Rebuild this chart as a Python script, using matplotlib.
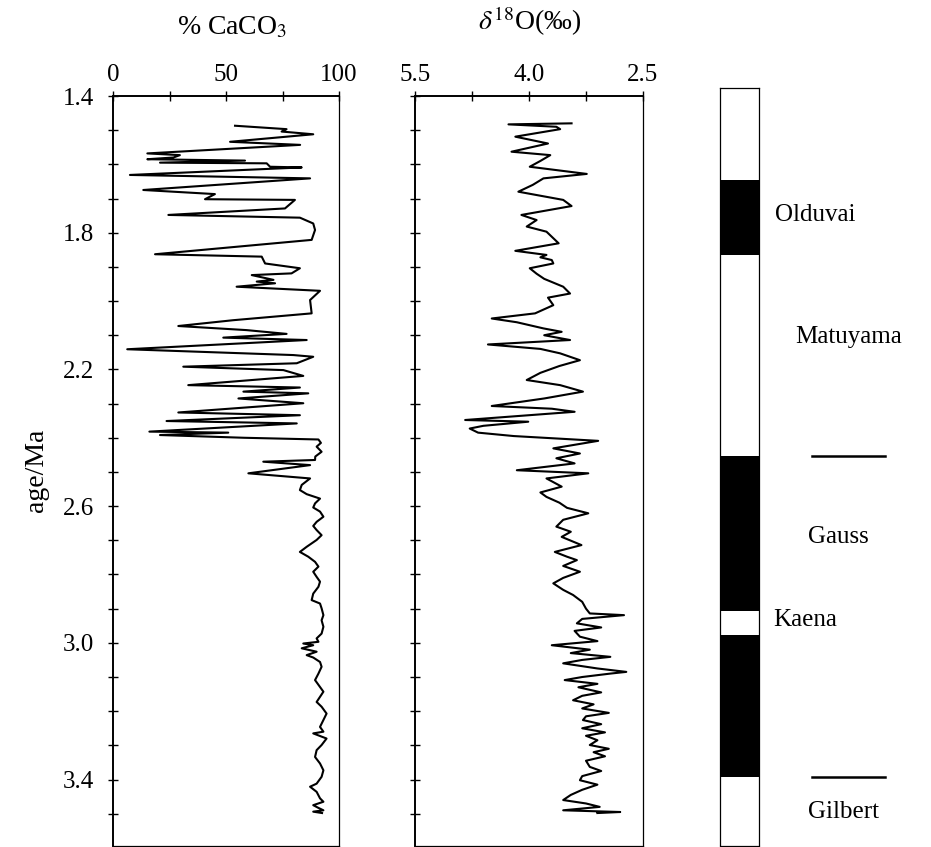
import numpy as np
import matplotlib
matplotlib.use("Agg")
import matplotlib.pyplot as plt
from matplotlib.ticker import MultipleLocator, FixedLocator

plt.rcParams['font.family'] = ['Liberation Serif', 'DejaVu Serif']
plt.rcParams['mathtext.fontset'] = 'stix'

# %CaCO3 record (age in Ma, percent)
caco3_age = [1.487, 1.497, 1.504, 1.512, 1.534, 1.543, 1.568, 1.573, 1.580, 1.585,
             1.589, 1.595, 1.597, 1.607, 1.609, 1.631, 1.641, 1.675, 1.687, 1.702,
             1.704, 1.729, 1.748, 1.756, 1.773, 1.792, 1.821, 1.863, 1.870, 1.890,
             1.904, 1.919, 1.924, 1.938, 1.943, 1.948, 1.958, 1.970, 1.997, 2.036,
             2.056, 2.073, 2.085, 2.096, 2.107, 2.114, 2.141, 2.158, 2.163, 2.182,
             2.192, 2.202, 2.219, 2.246, 2.253, 2.265, 2.270, 2.285, 2.299, 2.326,
             2.334, 2.351, 2.358, 2.382, 2.385, 2.392, 2.400, 2.405, 2.415, 2.426,
             2.441, 2.455, 2.465, 2.470, 2.480, 2.504, 2.519, 2.538, 2.553, 2.565,
             2.578, 2.592, 2.604, 2.616, 2.631, 2.646, 2.658, 2.670, 2.685, 2.699,
             2.719, 2.734, 2.748, 2.763, 2.777, 2.792, 2.807, 2.821, 2.836, 2.856,
             2.875, 2.885, 2.899, 2.919, 2.934, 2.953, 2.973, 2.987, 2.997, 3.002,
             3.007, 3.016, 3.026, 3.036, 3.043, 3.056, 3.070, 3.090, 3.109, 3.129,
             3.143, 3.158, 3.173, 3.187, 3.207, 3.226, 3.246, 3.260, 3.265, 3.280,
             3.299, 3.314, 3.334, 3.353, 3.373, 3.392, 3.412, 3.421, 3.436, 3.455,
             3.465, 3.475, 3.483, 3.490, 3.494, 3.498]
caco3_val = [54.0, 76.8, 74.6, 88.6, 51.8, 82.8, 15.2, 29.6, 26.7, 15.2,
             58.4, 20.8, 68.0, 69.5, 83.5, 7.5, 87.2, 13.4, 45.1, 40.7,
             80.5, 76.1, 24.5, 82.7, 88.6, 89.4, 87.9, 18.6, 65.8, 67.3,
             82.7, 79.0, 61.4, 71.0, 63.6, 71.7, 54.7, 91.6, 87.2, 87.9,
             53.2, 28.9, 59.1, 76.8, 48.8, 85.7, 6.3, 79.8, 88.6, 81.3,
             31.1, 75.4, 84.2, 33.3, 82.7, 57.7, 86.4, 55.5, 84.2, 28.9,
             82.7, 23.7, 81.3, 16.1, 51.0, 20.8, 58.0, 90.9, 92.0, 90.1,
             92.3, 89.5, 89.4, 66.5, 87.2, 59.9, 87.2, 83.5, 82.7, 85.7,
             91.6, 89.4, 88.6, 91.6, 93.1, 90.1, 88.6, 90.1, 92.3, 90.1,
             85.7, 82.7, 86.4, 89.4, 90.9, 88.6, 90.1, 91.6, 90.9, 88.6,
             87.9, 91.6, 92.3, 93.1, 92.3, 93.1, 92.3, 90.1, 90.9, 84.2,
             88.6, 83.5, 90.1, 85.7, 88.6, 91.6, 92.3, 90.9, 89.4, 91.6,
             93.1, 91.6, 90.1, 92.3, 94.5, 93.1, 91.6, 93.1, 88.6, 94.5,
             92.3, 90.1, 89.4, 91.6, 93.1, 92.3, 90.1, 87.2, 90.1, 91.6,
             93.1, 88.6, 90.9, 93.1, 88.6, 92.5]

# delta 18O record (age in Ma, per mil)
d18o_age = [1.480, 1.483, 1.490, 1.497, 1.519, 1.539, 1.563, 1.573, 1.590, 1.607,
            1.628, 1.641, 1.660, 1.680, 1.704, 1.722, 1.748, 1.763, 1.782, 1.797,
            1.812, 1.831, 1.853, 1.865, 1.872, 1.880, 1.890, 1.904, 1.920, 1.935,
            1.958, 1.978, 1.990, 2.012, 2.036, 2.051, 2.062, 2.080, 2.090, 2.100,
            2.114, 2.127, 2.140, 2.153, 2.173, 2.190, 2.210, 2.231, 2.246, 2.265,
            2.285, 2.307, 2.315, 2.324, 2.348, 2.353, 2.365, 2.373, 2.385, 2.395,
            2.409, 2.431, 2.446, 2.460, 2.475, 2.495, 2.504, 2.519, 2.543, 2.560,
            2.573, 2.590, 2.605, 2.621, 2.640, 2.660, 2.675, 2.690, 2.714, 2.734,
            2.748, 2.758, 2.775, 2.792, 2.810, 2.826, 2.845, 2.860, 2.880, 2.900,
            2.914, 2.919, 2.930, 2.943, 2.955, 2.965, 2.982, 2.995, 3.007, 3.020,
            3.030, 3.041, 3.050, 3.060, 3.075, 3.085, 3.090, 3.100, 3.109, 3.120,
            3.130, 3.145, 3.155, 3.168, 3.180, 3.192, 3.205, 3.215, 3.226, 3.238,
            3.250, 3.262, 3.272, 3.285, 3.299, 3.310, 3.320, 3.332, 3.345, 3.363,
            3.375, 3.390, 3.402, 3.415, 3.430, 3.445, 3.460, 3.470, 3.480, 3.490,
            3.495, 3.498]
d18o_val = [3.44, 4.27, 3.64, 3.59, 4.18, 3.75, 4.23, 3.72, 3.85, 3.99,
            3.24, 3.81, 3.95, 4.14, 3.55, 3.44, 4.10, 3.90, 4.03, 3.77,
            3.70, 3.61, 4.18, 3.77, 3.85, 3.70, 3.68, 3.99, 3.90, 3.80,
            3.55, 3.46, 3.75, 3.68, 3.92, 4.49, 4.16, 3.81, 3.57, 3.80,
            3.46, 4.54, 3.85, 3.59, 3.33, 3.60, 3.85, 4.03, 3.59, 3.29,
            3.80, 4.49, 3.70, 3.40, 4.84, 4.01, 4.60, 4.78, 4.67, 4.20,
            3.09, 3.68, 3.33, 3.64, 3.40, 4.16, 3.22, 3.77, 3.57, 3.85,
            3.77, 3.60, 3.50, 3.22, 3.55, 3.64, 3.45, 3.57, 3.31, 3.66,
            3.50, 3.37, 3.55, 3.33, 3.55, 3.68, 3.55, 3.42, 3.30, 3.25,
            3.20, 2.75, 3.30, 3.37, 3.05, 3.40, 3.33, 3.10, 3.70, 3.20,
            3.45, 2.93, 3.30, 3.55, 3.10, 2.72, 2.93, 3.30, 3.53, 3.10,
            3.35, 3.05, 3.30, 3.42, 3.15, 3.30, 2.95, 3.25, 3.29, 3.05,
            3.30, 3.00, 3.25, 3.10, 3.20, 2.95, 3.15, 3.00, 3.25, 3.20,
            3.05, 3.30, 3.33, 3.10, 3.30, 3.45, 3.55, 3.25, 3.07, 3.55,
            2.80, 3.10]

# magnetic polarity column: normal (black) intervals, Ma
normal_top = [1.646, 2.454, 2.977]
normal_base = [1.865, 2.907, 3.393]

chron_names = ['Olduvai', 'Matuyama', 'Gauss', 'Kaena', 'Gilbert']
chron_label_age = [1.748, 2.105, 2.69, 2.933, 3.495]
chron_label_x = [1.41, 1.92, 2.26, 1.36, 2.26]
boundary_lines = [2.454, 3.393]

age_top, age_bottom = 1.4, 3.593

W, H = 931, 847
fig = plt.figure(figsize=(W / 100, H / 100), dpi=100)

bottom = 1.5 / H
height = (845.5 - 96) / H

FS = 18
tick_kw = dict(direction='inout', length=7, width=1.0, color='k')


def age_axis(ax, labels):
    ax.set_ylim(age_bottom, age_top)
    ax.yaxis.set_major_locator(FixedLocator([1.4, 1.8, 2.2, 2.6, 3.0, 3.4]))
    ax.yaxis.set_minor_locator(MultipleLocator(0.1))
    ax.tick_params(axis='y', which='both', left=True, right=False,
                   labelleft=labels, pad=10, labelsize=FS, **tick_kw)
    ax.yaxis.set_major_formatter(plt.FuncFormatter(lambda v, p: f"{v:.1f}"))
    for s in ax.spines.values():
        s.set_linewidth(0.9)
    ax.spines['left'].set_linewidth(1.4)
    ax.spines['top'].set_linewidth(1.4)


# CaCO3 panel
ax1 = fig.add_axes([113 / W, bottom, 226 / W, height])
ax1.plot(caco3_val, caco3_age, color='k', lw=1.5)
ax1.set_xlim(0, 100)
age_axis(ax1, True)
ax1.xaxis.tick_top()
ax1.xaxis.set_major_locator(FixedLocator([0, 50, 100]))
ax1.xaxis.set_minor_locator(FixedLocator([25, 75]))
ax1.tick_params(axis='x', which='both', top=True, bottom=False, labeltop=True,
                labelbottom=False, pad=4, labelsize=FS, **tick_kw)
ax1.set_ylabel('age/Ma', fontsize=20, labelpad=10)

# d18O panel
ax2 = fig.add_axes([415 / W, bottom, 228 / W, height])
ax2.plot(d18o_val, d18o_age, color='k', lw=1.5)
ax2.set_xlim(5.5, 2.5)
age_axis(ax2, False)
ax2.xaxis.tick_top()
ax2.xaxis.set_major_locator(FixedLocator([5.5, 4.0, 2.5]))
ax2.xaxis.set_minor_locator(FixedLocator([4.75, 3.25]))
ax2.xaxis.set_major_formatter(plt.FuncFormatter(lambda v, p: f"{v:.1f}"))
ax2.tick_params(axis='x', which='both', top=True, bottom=False, labeltop=True,
                labelbottom=False, pad=4, labelsize=FS, **tick_kw)

# polarity column
col_top = 88
ax3 = fig.add_axes([720 / W, bottom, 39 / W, (845.5 - col_top) / H])
ax3.set_ylim(age_bottom, age_top - (96 - col_top) / 341.7)
ax3.set_xlim(0, 1)
for t, b in zip(normal_top, normal_base):
    ax3.axhspan(t, b, color='k', lw=0)
ax3.set_xticks([])
ax3.set_yticks([])
for s in ax3.spines.values():
    s.set_linewidth(0.9)

ytr = ax3.get_yaxis_transform()
for name, a, x in zip(chron_names, chron_label_age, chron_label_x):
    ax3.text(x, a, name, transform=ytr, fontsize=FS, va='center', ha='left')
for a in boundary_lines:
    ax3.plot([2.36, 4.23], [a, a], transform=ytr, color='k', lw=1.8, clip_on=False)

# panel titles
fig.text(232 / W, 1 - 28 / H, '% CaCO$_3$', fontsize=20, ha='center', va='center')
fig.text(530 / W, 1 - 21 / H, r'$\delta^{18}$O(‰)', fontsize=20, ha='center', va='center')

fig.savefig('out.png', dpi=100)
